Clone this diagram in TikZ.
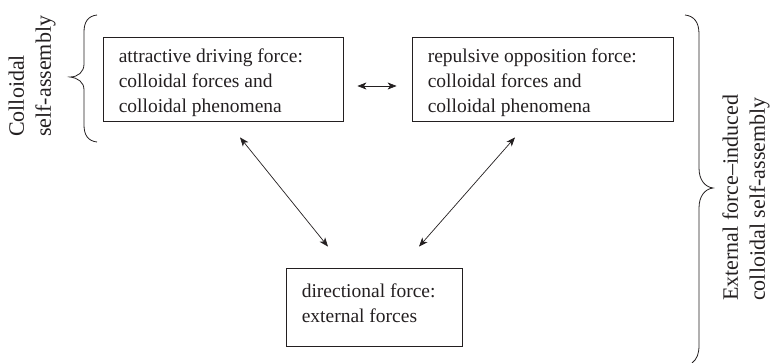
\documentclass[tikz,border=0pt]{standalone}
\usepackage{fontspec}
\setmainfont{Liberation Serif}
\usetikzlibrary{arrows.meta}
\definecolor{ink}{HTML}{231F20}
% a top-aligned block of left-aligned lines, 25pt apart
\newcommand{\boxlines}[2]{\parbox[t]{#1}{\raggedright #2}}
\begin{document}
\begin{tikzpicture}[x=1pt,y=-1pt,
  box/.style={draw=ink, line width=0.8pt, inner sep=0pt, anchor=center},
  boxtext/.style={anchor=base west, inner sep=0pt, text=ink,
    font=\fontsize{19.5}{25}\selectfont},
  tip/.tip={Stealth[length=9pt,width=7pt,inset=2.5pt]},
  link/.style={draw=ink, line width=0.7pt, tip-tip},
  bracket/.style={draw=ink, line width=0.8pt},
  side/.style={rotate=90, anchor=west, align=left, inner sep=0pt,
    font=\fontsize{22}{27}\selectfont, text=ink}]
\useasboundingbox (0,0) rectangle (773,363);

% the three force boxes
\node[box, minimum width=240pt, minimum height=84pt] (b1) at (223,79) {};
\node[box, minimum width=261pt, minimum height=84pt] (b2) at (542.5,79) {};
\node[box, minimum width=176pt, minimum height=78pt] (b3) at (374,307) {};

\node[boxtext] (t1) at ([shift={(16,26.3)}]b1.north west)
  {\boxlines{215pt}{attractive driving force:\\colloidal forces and\\colloidal phenomena}};
\node[boxtext] (t2) at ([shift={(16,26.3)}]b2.north west)
  {\boxlines{235pt}{repulsive opposition force:\\colloidal forces and\\colloidal phenomena}};
\node[boxtext] (t3) at ([shift={(16,30.3)}]b3.north west)
  {\boxlines{155pt}{directional force:\\external forces}};

% two-headed links between the boxes
\draw[link] ([shift={(14,7)}]b1.east) -- ([shift={(-15,7)}]b2.west);
\draw[link] ([shift={(17,16)}]b1.south) -- ([shift={(-46,-21)}]b3.north);
\draw[link] ([shift={(-27.5,16)}]b2.south) -- ([shift={(45,-21)}]b3.north);

% left brace and its label
\draw[bracket] (97,15) .. controls (88,16) and (84,22) .. (84,32) -- (84,64)
  .. controls (84,72) and (78,77) .. (70,77)
  .. controls (78,78) and (84,82) .. (84,90) -- (84,125)
  .. controls (84,135) and (88,141) .. (97,142);
\node[side] (lbl1) at (32,137) {Colloidal\\self-assembly};

% right brace and its label
\draw[bracket] (685,15) .. controls (694,16) and (699,22) .. (699,34) -- (699,168)
  .. controls (699,180) and (705,187) .. (713,188)
  .. controls (705,189) and (699,196) .. (699,208) -- (699,345)
  .. controls (699,354) and (697,359) .. (692,363);
\node[side] (lbl2) at (746,301) {External force–induced\\colloidal self-assembly};
\end{tikzpicture}
\end{document}
